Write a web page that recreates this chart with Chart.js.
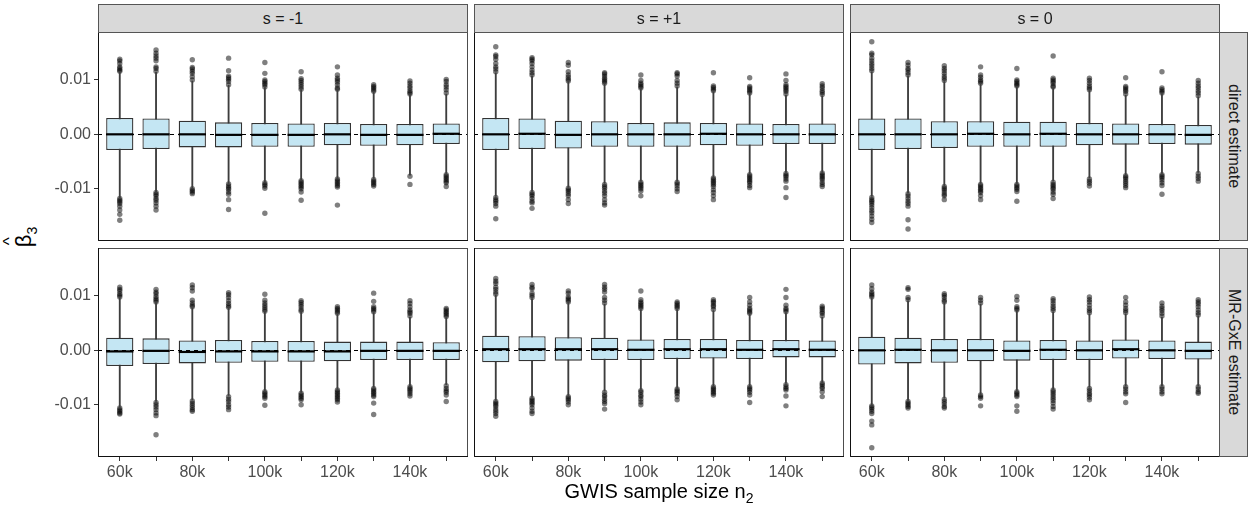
<!DOCTYPE html>
<html>
<head>
<meta charset="utf-8">
<script src="https://cdn.jsdelivr.net/npm/chart.js@4.4.1/dist/chart.umd.min.js"></script>
<style>
  body { margin: 0; background: #fff; font-family: "Liberation Sans", Arial, sans-serif; }
  #wrap { position: relative; width: 1249px; height: 508px; overflow: hidden; }
  canvas { position: absolute; }
  .strip { position: absolute; background: #d9d9d9; border: 1px solid #555; box-sizing: border-box;
           color: #1a1a1a; font-size: 16px; display: flex; align-items: center; justify-content: center; }
  .vstrip { writing-mode: vertical-rl; }
  .title { position: absolute; color: #000; font-size: 20px; }
</style>
</head>
<body>
<div id="wrap"></div>
<script>
// GWIS sample size n2 (thousands)
const sampleSizes = [60, 70, 80, 90, 100, 110, 120, 130, 140, 150];
const yTicks = [-0.01, 0, 0.01];
const colLabels = ["s = -1", "s = +1", "s = 0"];
const rowLabels = ["direct estimate", "MR-GxE estimate"];

// panels: direct s=-1, direct s=+1, direct s=0, MR s=-1, MR s=+1, MR s=0
const upperQuartile = [
  [0.0030, 0.0029, 0.0025, 0.0022, 0.0021, 0.0020, 0.0021, 0.0019, 0.0019, 0.0020],
  [0.0030, 0.0029, 0.0025, 0.0024, 0.0021, 0.0022, 0.0021, 0.0020, 0.0019, 0.0020],
  [0.0029, 0.0029, 0.0024, 0.0024, 0.0023, 0.0023, 0.0021, 0.0020, 0.0019, 0.0017],
  [0.0023, 0.0022, 0.0018, 0.0019, 0.0017, 0.0017, 0.0016, 0.0016, 0.0016, 0.0015],
  [0.0027, 0.0026, 0.0024, 0.0023, 0.0020, 0.0021, 0.0021, 0.0019, 0.0019, 0.0018],
  [0.0025, 0.0023, 0.0021, 0.0021, 0.0018, 0.0019, 0.0018, 0.0020, 0.0018, 0.0016]
];
const lowerQuartile = [
  [-0.0029, -0.0027, -0.0024, -0.0024, -0.0023, -0.0023, -0.0020, -0.0021, -0.0020, -0.0018],
  [-0.0029, -0.0027, -0.0026, -0.0023, -0.0023, -0.0023, -0.0020, -0.0021, -0.0018, -0.0018],
  [-0.0029, -0.0027, -0.0025, -0.0023, -0.0023, -0.0023, -0.0020, -0.0019, -0.0018, -0.0019],
  [-0.0029, -0.0025, -0.0024, -0.0023, -0.0021, -0.0021, -0.0020, -0.0018, -0.0018, -0.0018],
  [-0.0022, -0.0020, -0.0019, -0.0018, -0.0018, -0.0016, -0.0015, -0.0016, -0.0013, -0.0013],
  [-0.0026, -0.0024, -0.0023, -0.0020, -0.0019, -0.0018, -0.0018, -0.0015, -0.0016, -0.0017]
];
const medians = [
  [0, 0, 0, -0.0001, -0.0001, -0.0001, 0, -0.0001, -0.0001, 0.0001],
  [0, 0.0001, -0.0001, 0, 0, 0, 0.0001, 0, 0, 0],
  [0, 0, 0, 0.0001, 0, 0.0001, 0, 0, 0, -0.0001],
  [-0.0002, -0.0001, -0.0003, -0.0002, -0.0002, -0.0002, -0.0002, -0.0001, -0.0001, -0.0001],
  [0.0002, 0.0002, 0.0002, 0.0002, 0.0001, 0.0002, 0.0002, 0.0001, 0.0002, 0.0001],
  [0, 0.0001, 0, 0, -0.0001, 0.0001, 0, 0.0002, 0, -0.0001]
];
const whiskerHigh = [
  [0.0115, 0.0114, 0.0098, 0.0090, 0.0086, 0.0082, 0.0081, 0.0077, 0.0072, 0.0074],
  [0.0113, 0.0107, 0.0096, 0.0092, 0.0083, 0.0087, 0.0078, 0.0074, 0.0072, 0.0071],
  [0.0115, 0.0107, 0.0097, 0.0092, 0.0087, 0.0085, 0.0080, 0.0072, 0.0074, 0.0069],
  [0.0096, 0.0087, 0.0078, 0.0077, 0.0070, 0.0070, 0.0066, 0.0069, 0.0061, 0.0060],
  [0.0101, 0.0095, 0.0087, 0.0085, 0.0075, 0.0075, 0.0073, 0.0066, 0.0069, 0.0061],
  [0.0096, 0.0091, 0.0087, 0.0085, 0.0072, 0.0071, 0.0067, 0.0067, 0.0061, 0.0063]
];
const whiskerLow = [
  [-0.0117, -0.0106, -0.0099, -0.0090, -0.0088, -0.0084, -0.0081, -0.0081, -0.0075, -0.0072],
  [-0.0114, -0.0105, -0.0097, -0.0090, -0.0086, -0.0086, -0.0078, -0.0072, -0.0070, -0.0069],
  [-0.0114, -0.0107, -0.0094, -0.0090, -0.0090, -0.0086, -0.0080, -0.0074, -0.0072, -0.0070],
  [-0.0104, -0.0094, -0.0091, -0.0083, -0.0074, -0.0077, -0.0071, -0.0068, -0.0065, -0.0063],
  [-0.0092, -0.0086, -0.0083, -0.0075, -0.0072, -0.0069, -0.0065, -0.0065, -0.0061, -0.0058],
  [-0.0100, -0.0092, -0.0088, -0.0080, -0.0074, -0.0071, -0.0068, -0.0065, -0.0065, -0.0065]
];

const outDirectM1 = [
  [0.0138, 0.0135, 0.0130, 0.0124, 0.0121, 0.0118, 0.0116, -0.0118, -0.0121, -0.0124, -0.0127, -0.0132, -0.0139, -0.0147, -0.0158],
  [0.0155, 0.0149, 0.0144, 0.0140, 0.0135, 0.0124, 0.0121, 0.0116, -0.0107, -0.0110, -0.0113, -0.0118, -0.0121, -0.0126, -0.0132, -0.0139],
  [0.0137, 0.0123, 0.0120, 0.0116, 0.0112, 0.0106, 0.0100, -0.0100, -0.0103, -0.0106, -0.0109],
  [0.0140, 0.0117, 0.0107, 0.0104, 0.0101, 0.0097, 0.0091, -0.0091, -0.0095, -0.0098, -0.0101, -0.0106, -0.0110, -0.0120, -0.0138],
  [0.0132, 0.0112, 0.0100, 0.0097, 0.0094, 0.0091, 0.0087, -0.0089, -0.0092, -0.0095, -0.0099, -0.0145],
  [0.0115, 0.0102, 0.0099, 0.0095, 0.0091, 0.0087, 0.0083, -0.0085, -0.0088, -0.0091, -0.0094, -0.0097, -0.0100, -0.0106, -0.0121],
  [0.0124, 0.0109, 0.0103, 0.0100, 0.0096, 0.0091, 0.0085, 0.0083, -0.0082, -0.0085, -0.0088, -0.0091, -0.0094, -0.0097, -0.0130],
  [0.0091, 0.0088, 0.0085, 0.0082, 0.0079, -0.0083, -0.0086, -0.0089, -0.0092, -0.0095],
  [0.0098, 0.0094, 0.0089, 0.0085, 0.0080, 0.0077, 0.0074, -0.0077, -0.0092],
  [0.0101, 0.0097, 0.0091, 0.0087, 0.0082, 0.0076, -0.0074, -0.0077, -0.0080, -0.0083, -0.0086, -0.0089, -0.0096]
];
const outDirectP1 = [
  [0.0161, 0.0146, 0.0143, 0.0138, 0.0130, 0.0124, 0.0120, 0.0115, -0.0116, -0.0120, -0.0123, -0.0127, -0.0132, -0.0155],
  [0.0141, 0.0138, 0.0135, 0.0130, 0.0124, 0.0118, 0.0113, 0.0109, -0.0107, -0.0110, -0.0113, -0.0118, -0.0123, -0.0126, -0.0136],
  [0.0132, 0.0127, 0.0115, 0.0109, 0.0105, 0.0101, 0.0098, -0.0099, -0.0102, -0.0105, -0.0109, -0.0113, -0.0120, -0.0127],
  [0.0113, 0.0111, 0.0107, 0.0103, 0.0100, 0.0097, 0.0094, -0.0092, -0.0096, -0.0099, -0.0104, -0.0108, -0.0113, -0.0120, -0.0126, -0.0130],
  [0.0109, 0.0099, 0.0094, 0.0091, 0.0088, 0.0085, -0.0088, -0.0091, -0.0094, -0.0097, -0.0100, -0.0104, -0.0113],
  [0.0113, 0.0111, 0.0107, 0.0099, 0.0094, 0.0089, -0.0088, -0.0091, -0.0095, -0.0100, -0.0105],
  [0.0113, 0.0089, 0.0086, 0.0083, 0.0080, -0.0080, -0.0083, -0.0086, -0.0089, -0.0092, -0.0096, -0.0102, -0.0107, -0.0113, -0.0120],
  [0.0104, 0.0088, 0.0085, 0.0082, 0.0079, 0.0076, -0.0074, -0.0077, -0.0080, -0.0083, -0.0086, -0.0089, -0.0094, -0.0098],
  [0.0111, 0.0099, 0.0091, 0.0088, 0.0085, 0.0082, 0.0079, 0.0074, -0.0072, -0.0075, -0.0078, -0.0082, -0.0086, -0.0098, -0.0116],
  [0.0093, 0.0089, 0.0085, 0.0080, 0.0077, 0.0073, -0.0071, -0.0074, -0.0077, -0.0080, -0.0083, -0.0088, -0.0092, -0.0096]
];
const outDirect0 = [
  [0.0170, 0.0149, 0.0146, 0.0140, 0.0135, 0.0130, 0.0126, 0.0121, 0.0117, -0.0116, -0.0120, -0.0123, -0.0126, -0.0130, -0.0135, -0.0140, -0.0144, -0.0150, -0.0156, -0.0162],
  [0.0132, 0.0127, 0.0121, 0.0118, 0.0113, 0.0109, -0.0109, -0.0113, -0.0118, -0.0123, -0.0127, -0.0132, -0.0157, -0.0174],
  [0.0126, 0.0121, 0.0117, 0.0112, 0.0107, 0.0103, 0.0099, -0.0096, -0.0099, -0.0102, -0.0106, -0.0110, -0.0113, -0.0120],
  [0.0124, 0.0109, 0.0105, 0.0100, 0.0097, 0.0094, -0.0092, -0.0095, -0.0098, -0.0101, -0.0104, -0.0107, -0.0113, -0.0120],
  [0.0121, 0.0100, 0.0097, 0.0094, 0.0091, 0.0089, -0.0092, -0.0095, -0.0098, -0.0101, -0.0105, -0.0123],
  [0.0144, 0.0103, 0.0100, 0.0097, 0.0094, 0.0089, 0.0087, -0.0088, -0.0092, -0.0095, -0.0098, -0.0101, -0.0106, -0.0110, -0.0118],
  [0.0103, 0.0099, 0.0094, 0.0089, 0.0085, 0.0082, -0.0082, -0.0086, -0.0090, -0.0095],
  [0.0104, 0.0088, 0.0085, 0.0082, 0.0079, 0.0074, -0.0076, -0.0079, -0.0082, -0.0086, -0.0090, -0.0094, -0.0098],
  [0.0115, 0.0085, 0.0082, 0.0079, 0.0076, -0.0074, -0.0077, -0.0080, -0.0084, -0.0089, -0.0094, -0.0110],
  [0.0099, 0.0094, 0.0089, 0.0085, 0.0080, 0.0076, 0.0071, -0.0072, -0.0077, -0.0081, -0.0086]
];
const outMrM1 = [
  [0.0116, 0.0112, 0.0109, 0.0104, 0.0101, 0.0098, -0.0106, -0.0109, -0.0112, -0.0115, -0.0117],
  [0.0112, 0.0107, 0.0104, 0.0099, 0.0095, 0.0092, 0.0089, -0.0096, -0.0100, -0.0104, -0.0109, -0.0115, -0.0120, -0.0155],
  [0.0120, 0.0115, 0.0109, 0.0092, 0.0087, 0.0083, 0.0080, -0.0093, -0.0097, -0.0101, -0.0105, -0.0109, -0.0112],
  [0.0106, 0.0102, 0.0097, 0.0091, 0.0086, 0.0082, 0.0079, -0.0085, -0.0090, -0.0094, -0.0100, -0.0104, -0.0109],
  [0.0103, 0.0092, 0.0087, 0.0083, 0.0079, 0.0075, 0.0072, -0.0076, -0.0079, -0.0082, -0.0085, -0.0088, -0.0101],
  [0.0091, 0.0088, 0.0084, 0.0080, 0.0075, 0.0072, -0.0079, -0.0082, -0.0085, -0.0088, -0.0091, -0.0100],
  [0.0080, 0.0077, 0.0074, 0.0071, 0.0068, -0.0073, -0.0076, -0.0079, -0.0082, -0.0085, -0.0088, -0.0091, -0.0095],
  [0.0105, 0.0090, 0.0080, 0.0077, 0.0074, 0.0071, -0.0070, -0.0073, -0.0076, -0.0079, -0.0082, -0.0085, -0.0097, -0.0118],
  [0.0091, 0.0086, 0.0080, 0.0074, 0.0071, 0.0068, 0.0063, -0.0067, -0.0070, -0.0073, -0.0076, -0.0080, -0.0084],
  [0.0077, 0.0074, 0.0071, 0.0068, 0.0065, 0.0062, -0.0065, -0.0070, -0.0074, -0.0077, -0.0082, -0.0094]
];
const outMrP1 = [
  [0.0132, 0.0127, 0.0123, 0.0116, 0.0112, 0.0107, 0.0103, -0.0094, -0.0097, -0.0100, -0.0103, -0.0108, -0.0112, -0.0116, -0.0121],
  [0.0121, 0.0116, 0.0113, 0.0105, 0.0101, 0.0097, -0.0088, -0.0091, -0.0094, -0.0097, -0.0100, -0.0106, -0.0112, -0.0116],
  [0.0109, 0.0105, 0.0098, 0.0095, 0.0092, 0.0089, -0.0085, -0.0088, -0.0091, -0.0095, -0.0100],
  [0.0121, 0.0116, 0.0112, 0.0107, 0.0097, 0.0092, 0.0087, -0.0077, -0.0082, -0.0085, -0.0090, -0.0094, -0.0098, -0.0108],
  [0.0109, 0.0093, 0.0089, 0.0086, 0.0083, 0.0080, 0.0077, -0.0074, -0.0077, -0.0082, -0.0085, -0.0090, -0.0095, -0.0100],
  [0.0089, 0.0086, 0.0083, 0.0080, 0.0077, -0.0071, -0.0074, -0.0077, -0.0080, -0.0085, -0.0091],
  [0.0093, 0.0090, 0.0087, 0.0083, 0.0080, 0.0075, -0.0067, -0.0070, -0.0073, -0.0076, -0.0079, -0.0082],
  [0.0097, 0.0089, 0.0083, 0.0077, 0.0074, 0.0071, 0.0068, -0.0067, -0.0070, -0.0073, -0.0077, -0.0082, -0.0096],
  [0.0112, 0.0097, 0.0083, 0.0077, 0.0074, 0.0071, -0.0063, -0.0067, -0.0070, -0.0073, -0.0084, -0.0102],
  [0.0081, 0.0078, 0.0075, 0.0071, 0.0068, 0.0063, -0.0060, -0.0063, -0.0067, -0.0070, -0.0076, -0.0085]
];
const outMr0 = [
  [0.0120, 0.0113, 0.0107, 0.0104, 0.0101, 0.0098, -0.0102, -0.0105, -0.0108, -0.0112, -0.0116, -0.0130, -0.0137, -0.0179],
  [0.0115, 0.0112, 0.0097, 0.0093, -0.0094, -0.0097, -0.0100, -0.0103, -0.0106],
  [0.0104, 0.0101, 0.0097, 0.0092, 0.0089, -0.0090, -0.0094, -0.0098, -0.0103, -0.0106],
  [0.0097, 0.0092, 0.0087, -0.0082, -0.0085, -0.0088, -0.0102],
  [0.0099, 0.0092, 0.0080, 0.0077, 0.0074, -0.0076, -0.0079, -0.0082, -0.0085, -0.0102, -0.0112],
  [0.0095, 0.0091, 0.0086, 0.0081, 0.0077, 0.0073, -0.0073, -0.0076, -0.0080, -0.0084, -0.0088, -0.0092, -0.0097, -0.0103, -0.0108],
  [0.0098, 0.0093, 0.0089, 0.0083, 0.0077, 0.0073, 0.0069, -0.0070, -0.0074, -0.0079, -0.0082, -0.0086, -0.0091],
  [0.0097, 0.0089, 0.0083, 0.0077, 0.0073, 0.0069, -0.0067, -0.0071, -0.0076, -0.0080, -0.0096],
  [0.0087, 0.0081, 0.0077, 0.0073, 0.0068, 0.0063, -0.0067, -0.0071, -0.0076, -0.0080],
  [0.0093, 0.0089, 0.0085, 0.0080, 0.0074, 0.0069, 0.0065, -0.0067, -0.0071, -0.0076, -0.0079]
];
const outliers = [outDirectM1, outDirectP1, outDirect0, outMrM1, outMrP1, outMr0];

// layout of the facet grid
const colLeft = [98, 474, 850];
const rowTop = [32, 248];
const panelW = 370, panelH = 209;
const yAxisW = 58, xAxisH = 40;

Chart.defaults.font.family = "'Liberation Sans', Arial, sans-serif";
Chart.defaults.font.size = 16;
Chart.defaults.color = "#4d4d4d";

const wrap = document.getElementById("wrap");

// zero reference line + panel frame
const panelDeco = {
  id: "panelDeco",
  afterDatasetsDraw(chart) {
    const { ctx, chartArea: a, scales } = chart;
    const y = Math.round(scales.y.getPixelForValue(0)) + 0.5;
    ctx.save();
    ctx.strokeStyle = "#000";
    ctx.lineWidth = 1;
    ctx.setLineDash([4, 4]);
    ctx.beginPath();
    ctx.moveTo(a.left, y);
    ctx.lineTo(a.right, y);
    ctx.stroke();
    ctx.restore();
  },
  afterDraw(chart) {
    const { ctx, chartArea: a } = chart;
    ctx.save();
    ctx.strokeStyle = "#4d4d4d";
    ctx.lineWidth = 1;
    ctx.strokeRect(a.left + 0.5, a.top + 0.5, a.right - a.left - 1, a.bottom - a.top - 1);
    ctx.strokeStyle = "#111";
    ctx.beginPath();
    ctx.moveTo(a.left + 0.5, a.top);
    ctx.lineTo(a.left + 0.5, a.bottom - 0.5);
    ctx.lineTo(a.right, a.bottom - 0.5);
    ctx.stroke();
    ctx.restore();
  }
};

function makePanel(p) {
  const r = Math.floor(p / 3), c = p % 3;
  const showY = c === 0, showX = r === 1;
  const canvas = document.createElement("canvas");
  const w = panelW + (showY ? yAxisW : 0);
  const h = panelH + (showX ? xAxisH : 0);
  canvas.width = w; canvas.height = h;
  canvas.style.left = (colLeft[c] - (showY ? yAxisW : 0)) + "px";
  canvas.style.top = rowTop[r] + "px";
  canvas.style.width = w + "px"; canvas.style.height = h + "px";
  wrap.appendChild(canvas);

  const whiskers = sampleSizes.map((s, i) => ({ x: s, y: [whiskerLow[p][i], whiskerHigh[p][i]] }));
  const boxes = sampleSizes.map((s, i) => ({ x: s, y: [lowerQuartile[p][i], upperQuartile[p][i]] }));
  const mids = sampleSizes.map((s, i) => ({ x: s, y: medians[p][i] }));
  const dots = [];
  sampleSizes.forEach((s, i) => outliers[p][i].forEach(v => dots.push({ x: s, y: v })));

  new Chart(canvas, {
    type: "bar",
    data: {
      datasets: [
        { type: "bar", data: whiskers, backgroundColor: "#3d3d3d", barThickness: 1.2, grouped: false, order: 4 },
        { type: "bar", data: boxes, backgroundColor: "#c4e6f3", borderColor: "#333", borderWidth: 1.3,
          borderSkipped: false, barPercentage: 0.75, categoryPercentage: 1, grouped: false, order: 3 },
        { type: "line", data: dots, showLine: false, pointRadius: 2.7, pointBorderWidth: 0,
          pointBackgroundColor: "rgba(0,0,0,0.5)", order: 5 },
        { type: "line", data: mids, showLine: false, pointStyle: "line", pointRadius: 13.6,
          pointBorderColor: "#000", pointBorderWidth: 2.2, order: 1 }
      ]
    },
    options: {
      responsive: false,
      animation: false,
      events: [],
      layout: { padding: 0, autoPadding: false },
      plugins: { legend: { display: false }, tooltip: { enabled: false } },
      scales: {
        x: {
          type: "linear", min: 54, max: 156, offset: false, display: showX,
          grid: { display: true, drawOnChartArea: false, drawTicks: true, tickLength: 4, color: "#333", offset: false },
          border: { display: false },
          ticks: { autoSkip: false, maxRotation: 0, minRotation: 0, padding: 2,
                   callback: v => (v % 20 === 0 ? v + "k" : "") },
          afterBuildTicks: s => { s.ticks = sampleSizes.map(v => ({ value: v })); },
          afterFit: s => { if (showX) s.height = xAxisH; s.paddingLeft = 0; s.paddingRight = 0; }
        },
        y: {
          min: -0.0196, max: 0.0188, display: showY, stacked: false,
          grid: { display: true, drawOnChartArea: false, drawTicks: true, tickLength: 4, color: "#333" },
          border: { display: false },
          ticks: { padding: 3, callback: v => v.toFixed(2) },
          afterBuildTicks: s => { s.ticks = yTicks.map(v => ({ value: v })); },
          afterFit: s => { if (showY) s.width = yAxisW; s.paddingTop = 0; s.paddingBottom = 0; }
        }
      }
    },
    plugins: [panelDeco]
  });
}

for (let p = 0; p < 6; p++) makePanel(p);

// facet strips
colLabels.forEach((t, c) => {
  const d = document.createElement("div");
  d.className = "strip";
  d.style.left = colLeft[c] + "px"; d.style.top = "4px";
  d.style.width = panelW + "px"; d.style.height = "29px";
  d.textContent = t;
  wrap.appendChild(d);
});
rowLabels.forEach((t, r) => {
  const d = document.createElement("div");
  d.className = "strip vstrip";
  d.style.left = "1219px"; d.style.top = rowTop[r] + "px";
  d.style.width = "29px"; d.style.height = panelH + "px";
  d.textContent = t;
  wrap.appendChild(d);
});

// axis titles
const xt = document.createElement("div");
xt.className = "title";
xt.style.left = "459px"; xt.style.width = "400px"; xt.style.textAlign = "center";
xt.style.top = "479px"; xt.style.lineHeight = "24px";
xt.innerHTML = 'GWIS sample size n<span style="font-size:14px;position:relative;top:5px">2</span>';
wrap.appendChild(xt);

const yt = document.createElement("div");
yt.className = "title";
yt.style.left = "-15px"; yt.style.top = "222px"; yt.style.width = "80px"; yt.style.textAlign = "center";
yt.style.lineHeight = "28px"; yt.style.fontSize = "22px";
yt.style.transform = "rotate(-90deg)";
yt.innerHTML = '<span style="position:relative">β<span style="position:absolute;left:2px;top:-15px;font-size:17px">^</span></span>' +
  '<span style="font-size:14px;position:relative;top:6px">3</span>';
wrap.appendChild(yt);
</script>
</body>
</html>
